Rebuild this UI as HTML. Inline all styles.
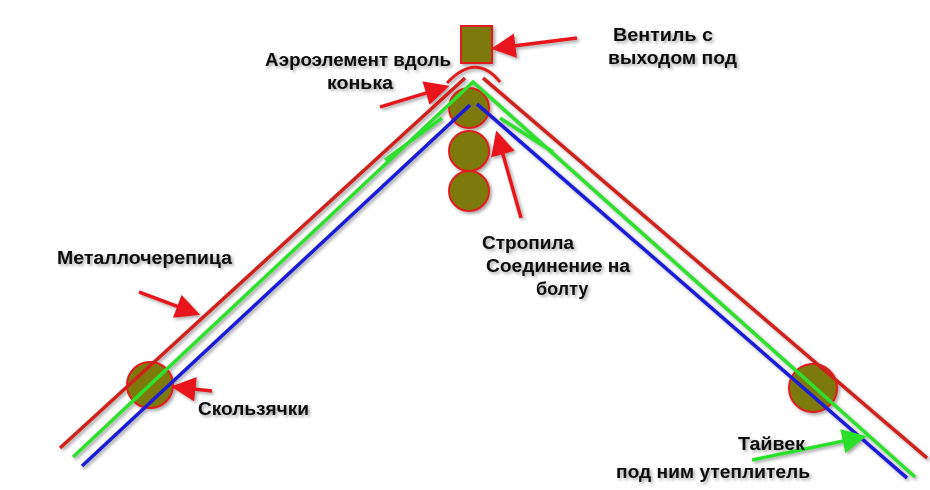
<!DOCTYPE html>
<html><head><meta charset="utf-8"><style>
html,body{margin:0;padding:0;background:#fff;}
svg{display:block;}
text{font-family:"Liberation Sans",sans-serif;font-weight:bold;font-size:18px;fill:#111;}
</style></head><body>
<svg width="930" height="490" viewBox="0 0 930 490" xmlns="http://www.w3.org/2000/svg">
<defs>
<filter id="sh" x="-20%" y="-20%" width="140%" height="160%"><feDropShadow dx="2" dy="2" stdDeviation="1.5" flood-color="#000" flood-opacity="0.35"/></filter>
<marker id="ar" markerWidth="7" markerHeight="7" refX="3" refY="3.5" orient="auto" markerUnits="strokeWidth"><path d="M0,0 L7,3.5 L0,7 Z" fill="#e8171b"/></marker>
<marker id="ag" markerWidth="7" markerHeight="7" refX="3" refY="3.5" orient="auto" markerUnits="strokeWidth"><path d="M0,0 L7,3.5 L0,7 Z" fill="#2be02b"/></marker>
</defs>
<g filter="url(#sh)">
<g fill="#7d7a0c" stroke="#e01e1e" stroke-width="2">
<circle cx="469" cy="108" r="20"/>
<circle cx="469" cy="151" r="20"/>
<circle cx="469" cy="191" r="20"/>
<circle cx="150" cy="385" r="23"/>
<circle cx="813" cy="388" r="24"/>
<rect x="461" y="26" width="31" height="37"/>
</g>
<g fill="none" stroke-width="3.5">
<polyline points="60,448 465,78" stroke="#d0201c"/>
<polyline points="483,78 927,458" stroke="#d0201c"/>
<polyline points="73,457 473,82 915,477" stroke="#2fe02f"/>
<polyline points="82,466 470,105" stroke="#1a1ad8"/>
<polyline points="477,104 907,478" stroke="#1a1ad8"/>
<line x1="385" y1="160" x2="442" y2="118" stroke="#2fe02f"/>
<line x1="500" y1="118" x2="553" y2="152" stroke="#2fe02f"/>
<path d="M447,83 Q476,52 500,82" stroke="#e01e1e" stroke-width="3"/>
</g>
<g stroke="#e8171b" stroke-width="3.5" fill="none">
<line x1="577" y1="38" x2="505" y2="47" marker-end="url(#ar)"/>
<line x1="380" y1="107" x2="436" y2="90" marker-end="url(#ar)"/>
<line x1="139" y1="292" x2="187" y2="310" marker-end="url(#ar)"/>
<line x1="212" y1="391" x2="185" y2="388" marker-end="url(#ar)"/>
<line x1="521" y1="218" x2="500" y2="144" marker-end="url(#ar)"/>
</g>
<line x1="752" y1="460" x2="853" y2="439" stroke="#2be02b" stroke-width="3.5" marker-end="url(#ag)"/>
<text x="613" y="41" textLength="100" lengthAdjust="spacingAndGlyphs">Вентиль с</text>
<text x="608" y="64" textLength="129" lengthAdjust="spacingAndGlyphs">выходом под</text>
<text x="265" y="66" textLength="186" lengthAdjust="spacingAndGlyphs">Аэроэлемент вдоль</text>
<text x="327" y="89" textLength="66" lengthAdjust="spacingAndGlyphs">конька</text>
<text x="57" y="264" textLength="175" lengthAdjust="spacingAndGlyphs">Металлочерепица</text>
<text x="482" y="249" textLength="92" lengthAdjust="spacingAndGlyphs">Стропила</text>
<text x="486" y="272" textLength="144" lengthAdjust="spacingAndGlyphs">Соединение на</text>
<text x="536" y="295">болту</text>
<text x="198" y="415" textLength="111" lengthAdjust="spacingAndGlyphs">Скользячки</text>
<text x="738" y="450" textLength="67" lengthAdjust="spacingAndGlyphs">Тайвек</text>
<text x="616" y="478" textLength="194" lengthAdjust="spacingAndGlyphs">под ним утеплитель</text>
</g>
</svg>
</body></html>
